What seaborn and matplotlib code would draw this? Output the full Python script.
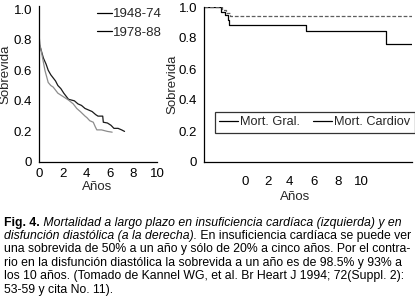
"""
plot.py
Sobrevida a largo plazo: insuficiencia cardíaca (izquierda) y
disfunción diastólica (derecha), con el pie de figura debajo.
"""

import matplotlib
matplotlib.use("Agg")
import matplotlib.pyplot as plt
import pandas as pd
import seaborn as sns
from matplotlib.lines import Line2D

# Izquierda: insuficiencia cardíaca, dos cohortes
years_4874 = [0, 0.15, 0.37, 0.6, 0.78, 1.0, 1.2, 1.4, 1.6, 1.85, 2.1, 2.3, 2.5,
              2.75, 3.0, 3.3, 3.6, 3.9, 4.2, 4.5, 4.8, 5.0, 5.2, 5.4, 5.45, 5.8,
              6.1, 6.35, 6.7, 7.0, 7.25]
surv_4874 = [0.775, 0.74, 0.68, 0.64, 0.60, 0.57, 0.55, 0.53, 0.50, 0.48, 0.45,
             0.43, 0.41, 0.405, 0.40, 0.38, 0.37, 0.35, 0.34, 0.33, 0.31, 0.30,
             0.30, 0.30, 0.26, 0.255, 0.24, 0.22, 0.22, 0.21, 0.20]
years_7888 = [0, 0.1, 0.23, 0.5, 0.78, 1.0, 1.2, 1.6, 2.0, 2.5, 2.9, 3.2, 3.5,
              3.9, 4.06, 4.3, 4.6, 4.77, 4.9, 5.3, 5.8, 6.2]
surv_7888 = [0.83, 0.76, 0.71, 0.60, 0.52, 0.50, 0.49, 0.45, 0.43, 0.405, 0.38,
             0.35, 0.33, 0.30, 0.29, 0.27, 0.26, 0.23, 0.21, 0.21, 0.20, 0.195]
cohorts = ["1948-74", "1978-88"]

# Derecha: disfunción diastólica
years_gral = [0, 0.8, 1.0, 1.12, 1.2, 4.9, 8.74, 10.0]
surv_gral = [1.0, 0.97, 0.95, 0.916, 0.884, 0.847, 0.76, 0.76]
years_cardiov = [0, 0.85, 1.04, 1.22, 10.0]
surv_cardiov = [1.0, 0.98, 0.96, 0.94, 0.94]

y_ticks = [0, 0.2, 0.4, 0.6, 0.8, 1.0]
y_labels = ["0", "0.2", "0.4", "0.6", "0.8", "1.0"]
x_labels = ["0", "2", "4", "6", "8", "10"]
# etiquetas del eje x derecho desplazadas respecto a las marcas (como en el original)
x_label_pos_right = [1.96, 3.05, 4.12, 5.27, 6.43, 7.58]

caption_lines = [
    [("Fig. 4.", "normal", "bold"),
     (" Mortalidad a largo plazo en insuficiencia cardíaca (izquierda) y en", "italic", "normal")],
    [("disfunción diastólica (a la derecha).", "italic", "normal"),
     (" En insuficiencia cardíaca se puede ver", "normal", "normal")],
    [("una sobrevida de 50% a un año y sólo de 20% a cinco años. Por el contra-", "normal", "normal")],
    [("rio en la disfunción diastólica la sobrevida a un año es de 98.5% y 93% a", "normal", "normal")],
    [("los 10 años. (Tomado de Kannel WG, et al. Br Heart J 1994; 72(Suppl. 2):", "normal", "normal")],
    [("53-59 y cita No. 11).", "normal", "normal")],
]

sns.set_theme(style="white")
plt.rcParams["font.family"] = ["Liberation Sans", "DejaVu Sans"]

fig = plt.figure(figsize=(4.15, 3.0), dpi=100)
W, H = 415, 300


def px_axes(x0, y_top, x1, y_bot):
    return fig.add_axes([x0 / W, 1 - y_bot / H, (x1 - x0) / W, (y_bot - y_top) / H])


def style_axes(ax):
    sns.despine(ax=ax)
    for s in ("left", "bottom"):
        ax.spines[s].set_color("black")
        ax.spines[s].set_linewidth(0.9)
    ax.tick_params(axis="both", which="both", direction="out", colors="black",
                   labelsize=9.5, length=3, width=0.8)
    ax.set_yticks(y_ticks)
    ax.set_yticklabels(y_labels)


# ---- panel izquierdo ----
ax1 = px_axes(39, 6, 157, 162)
df_left = pd.concat([
    pd.DataFrame({"Años": years_4874, "Sobrevida": surv_4874, "Periodo": cohorts[0]}),
    pd.DataFrame({"Años": years_7888, "Sobrevida": surv_7888, "Periodo": cohorts[1]}),
])
sns.lineplot(data=df_left, x="Años", y="Sobrevida", hue="Periodo",
             palette={cohorts[0]: "#1a1a1a", cohorts[1]: "#8c8c8c"},
             linewidth=0.9, estimator=None, sort=False, ax=ax1, legend=False)
ax1.set_xlim(0, 10)
ax1.set_ylim(0, 1.02)
style_axes(ax1)
ax1.set_xticks([0, 2, 4, 6, 8, 10])
ax1.set_xticklabels(x_labels)
ax1.tick_params(axis="x", pad=1.5)
ax1.tick_params(axis="y", pad=2)
ax1.set_xlabel("Años", fontsize=9.5)
ax1.set_ylabel("Sobrevida", fontsize=9.5)
ax1.xaxis.set_label_coords(0.49, -0.12)
ax1.yaxis.set_label_coords(-0.235, 0.56)
handles = [Line2D([], [], color="black", lw=0.9) for _ in cohorts]
ax1.legend(handles, cohorts, loc="upper left", bbox_to_anchor=(0.45, 1.02),
           frameon=False, fontsize=9.5, handlelength=1.1, handletextpad=0.05,
           labelspacing=0.45, borderaxespad=0)

# ---- panel derecho ----
ax2 = px_axes(204.3, 7, 412, 162)
sns.lineplot(x=years_gral, y=surv_gral, color="black", linewidth=0.9,
             drawstyle="steps-post", estimator=None, ax=ax2)
sns.lineplot(x=years_cardiov, y=surv_cardiov, color="#5e5e5e", linewidth=0.9,
             drawstyle="steps-post", estimator=None, ax=ax2, dashes=False,
             linestyle=(0, (3, 1.5)))
ax2.set_xlim(0, 10)
ax2.set_ylim(0, 1.0)
style_axes(ax2)
ax2.set_xticks(range(0, 11), minor=True)
ax2.set_xticks(x_label_pos_right)
ax2.set_xticklabels(x_labels)
ax2.tick_params(axis="x", which="major", length=0, pad=10)
ax2.tick_params(axis="y", pad=2)
ax2.set_xlabel("Años", fontsize=9.5)
ax2.set_ylabel("Sobrevida", fontsize=9.5)
ax2.xaxis.set_label_coords(0.437, -0.185)
ax2.yaxis.set_label_coords(-0.127, 0.5)
leg_handles = [Line2D([], [], color="black", lw=0.9) for _ in range(2)]
leg = ax2.legend(leg_handles, ["Mort. Gral.", "Mort. Cardiov"], ncol=2,
                 loc="lower left", bbox_to_anchor=(0.05, 0.19), fontsize=9.2,
                 frameon=True, fancybox=False, handlelength=1.5,
                 handletextpad=0.15, columnspacing=1.0, borderpad=0.35,
                 borderaxespad=0)
leg.get_frame().set_edgecolor("black")
leg.get_frame().set_linewidth(0.9)

# ---- pie de figura ----
cap = fig.add_axes([0, 0, 1, 1], zorder=-1)
cap.set_xlim(0, W)
cap.set_ylim(H, 0)
cap.axis("off")
line_y = [222.7, 235.8, 249.2, 262.7, 276.2, 289.7]
for y, pieces in zip(line_y, caption_lines):
    prev = None
    for text, style, weight in pieces:
        kw = dict(fontsize=8.8, fontstyle=style, fontweight=weight,
                  color="black", ha="left", va="center")
        if prev is None:
            prev = cap.text(4, y, text, **kw)
        else:
            prev = cap.annotate(text, xy=(1, 0.5), xycoords=prev, **kw)

fig.savefig("out.png", dpi=100)
